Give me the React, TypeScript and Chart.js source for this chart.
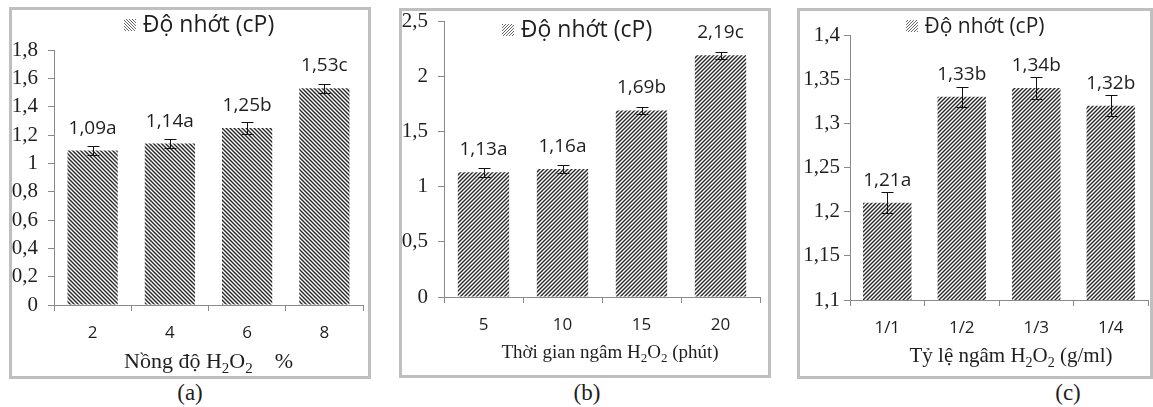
import React, { useEffect, useRef } from 'react';
import { Chart, registerables } from 'chart.js';
Chart.register(...registerables);

const LEGEND_LABEL = 'Độ nhớt (cP)';

// Panel (a)
const catsA = ['2', '4', '6', '8'];
const valsA = [1.09, 1.14, 1.25, 1.53];
const errA = [0.03, 0.03, 0.04, 0.03];
const lettersA = ['a', 'a', 'b', 'c'];
const titleA = [{ t: 'Nồng độ H' }, { t: '2', sub: true }, { t: 'O' }, { t: '2', sub: true }, { t: '    %' }];

// Panel (b)
const catsB = ['5', '10', '15', '20'];
const valsB = [1.13, 1.16, 1.69, 2.19];
const errB = [0.04, 0.035, 0.03, 0.03];
const lettersB = ['a', 'a', 'b', 'c'];
const titleB = [{ t: 'Thời gian ngâm H' }, { t: '2', sub: true }, { t: 'O' }, { t: '2', sub: true }, { t: ' (phút)' }];

// Panel (c)
const catsC = ['1/1', '1/2', '1/3', '1/4'];
const valsC = [1.21, 1.33, 1.34, 1.32];
const errC = [0.012, 0.011, 0.013, 0.012];
const lettersC = ['a', 'b', 'b', 'b'];
const titleC = [{ t: 'Tỷ lệ ngâm H' }, { t: '2', sub: true }, { t: 'O' }, { t: '2', sub: true }, { t: ' (g/ml)' }];

const SANS = '"Open Sans", "Noto Sans", sans-serif';
const SERIF = '"Liberation Serif", "DejaVu Serif", serif';
const TEXT = '#1e1e1e';
const AXIS = '#8a8a8a';

const fmt = (v: number) => String(+v.toFixed(2)).replace('.', ',');

function makeHatch(ctx: CanvasRenderingContext2D, dir: 'back' | 'fwd', period: number, lw: number, color: string) {
  const c = document.createElement('canvas');
  c.width = period;
  c.height = period;
  const x = c.getContext('2d')!;
  x.fillStyle = '#fff';
  x.fillRect(0, 0, period, period);
  x.strokeStyle = color;
  x.lineWidth = lw;
  x.beginPath();
  if (dir === 'back') {
    x.moveTo(-1, -1); x.lineTo(period + 1, period + 1);
    x.moveTo(-1, period - 1); x.lineTo(1, period + 1);
    x.moveTo(period - 1, -1); x.lineTo(period + 1, 1);
  } else {
    x.moveTo(-1, period + 1); x.lineTo(period + 1, -1);
    x.moveTo(-1, 1); x.lineTo(1, -1);
    x.moveTo(period - 1, period + 1); x.lineTo(period + 1, period - 1);
  }
  x.stroke();
  return ctx.createPattern(c, 'repeat')!;
}

const extrasPlugin = {
  id: 'extras',
  afterDatasetsDraw(chart: any, _a: any, opts: any) {
    const { ctx } = chart;
    const meta = chart.getDatasetMeta(0);
    const ys = chart.scales.y;
    ctx.save();
    meta.data.forEach((bar: any, i: number) => {
      const v = opts.vals[i];
      const e = opts.errs[i];
      const x = bar.x;
      const t = Math.round(ys.getPixelForValue(v + e)) + 0.5;
      const b = Math.round(ys.getPixelForValue(v - e)) + 0.5;
      const xc = Math.round(x) + 0.5;
      ctx.strokeStyle = '#111';
      ctx.lineWidth = 1;
      ctx.beginPath();
      ctx.moveTo(xc, t); ctx.lineTo(xc, b);
      ctx.moveTo(xc - 6, t); ctx.lineTo(xc + 6, t);
      ctx.moveTo(xc - 6, b); ctx.lineTo(xc + 6, b);
      ctx.stroke();
      ctx.fillStyle = TEXT;
      ctx.font = `${opts.labelSize}px ${SANS}`;
      ctx.textAlign = 'center';
      ctx.textBaseline = 'alphabetic';
      ctx.fillText(fmt(v) + opts.letters[i], x, bar.y - opts.labelGap);
    });
    ctx.restore();
  },
};

const legendPlugin = {
  id: 'hlegend',
  afterDraw(chart: any, _a: any, opts: any) {
    const { ctx } = chart;
    ctx.save();
    ctx.font = `${opts.size}px ${SANS}`;
    const tw = ctx.measureText(opts.text).width;
    const sw = 12;
    const gap = 7;
    const x0 = opts.cx - (sw + gap + tw) / 2;
    ctx.fillStyle = opts.pattern;
    ctx.fillRect(Math.round(x0), opts.baseline - 13, sw, sw);
    ctx.fillStyle = TEXT;
    ctx.textAlign = 'left';
    ctx.textBaseline = 'alphabetic';
    ctx.fillText(opts.text, x0 + sw + gap, opts.baseline);
    ctx.restore();
  },
};

const xTitlePlugin = {
  id: 'xtitle',
  afterDraw(chart: any, _a: any, opts: any) {
    const { ctx } = chart;
    ctx.save();
    const size = opts.size;
    const subSize = Math.round(size * 0.68);
    const parts = opts.parts as { t: string; sub?: boolean }[];
    let total = 0;
    const widths = parts.map((p) => {
      ctx.font = `${p.sub ? subSize : size}px ${SERIF}`;
      const w = ctx.measureText(p.t).width;
      total += w;
      return w;
    });
    const ca = chart.chartArea;
    let x = (ca.left + ca.right) / 2 + opts.dx - total / 2;
    ctx.fillStyle = TEXT;
    ctx.textAlign = 'left';
    ctx.textBaseline = 'alphabetic';
    parts.forEach((p, i) => {
      ctx.font = `${p.sub ? subSize : size}px ${SERIF}`;
      ctx.fillText(p.t, x, opts.baseline + (p.sub ? Math.round(size * 0.22) : 0));
      x += widths[i];
    });
    ctx.restore();
  },
};

type PanelCfg = {
  cats: string[];
  vals: number[];
  errs: number[];
  letters: string[];
  title: { t: string; sub?: boolean }[];
  dir: 'back' | 'fwd';
  w: number;
  h: number;
  yWidth: number;
  xHeight: number;
  padTop: number;
  padRight: number;
  min: number;
  max: number;
  step: number;
  yPad: number;
  xPad: number;
  yFont: number;
  legendCx: number;
  legendBase: number;
  legendSize: number;
  titleBase: number;
  titleDx: number;
  titleSize: number;
};

function Panel({ cfg }: { cfg: PanelCfg }) {
  const ref = useRef<HTMLCanvasElement | null>(null);
  useEffect(() => {
    const canvas = ref.current!;
    const ctx = canvas.getContext('2d')!;
    const pattern = makeHatch(ctx, cfg.dir, 4, 1.4, '#262626');
    const legendPattern = makeHatch(ctx, cfg.dir, 3, 0.9, '#555');
    const chart = new Chart(canvas, {
      type: 'bar',
      data: {
        labels: cfg.cats,
        datasets: [
          {
            label: LEGEND_LABEL,
            data: cfg.vals,
            backgroundColor: pattern,
            borderWidth: 0,
            barPercentage: 0.65,
            categoryPercentage: 1,
          },
        ],
      },
      options: {
        responsive: false,
        animation: false,
        events: [],
        layout: { padding: { top: cfg.padTop, right: cfg.padRight, left: 0, bottom: 0 } },
        plugins: {
          legend: { display: false },
          tooltip: { enabled: false },
          extras: { vals: cfg.vals, errs: cfg.errs, letters: cfg.letters, labelSize: 19, labelGap: 17 },
          hlegend: { text: LEGEND_LABEL, cx: cfg.legendCx, baseline: cfg.legendBase, size: cfg.legendSize, pattern: legendPattern },
          xtitle: { parts: cfg.title, baseline: cfg.titleBase, dx: cfg.titleDx, size: cfg.titleSize },
        } as any,
        scales: {
          x: {
            offset: true,
            grid: { display: true, drawOnChartArea: false, drawTicks: true, tickLength: 6, color: AXIS, offset: true },
            border: { display: true, color: AXIS, width: 1 },
            ticks: { font: { family: SANS, size: 17 }, color: TEXT, padding: cfg.xPad },
            afterFit: (s: any) => {
              s.height = cfg.xHeight;
              s.paddingLeft = 0;
              s.paddingRight = 0;
            },
          },
          y: {
            min: cfg.min,
            max: cfg.max,
            grid: { display: true, drawOnChartArea: false, drawTicks: true, tickLength: 6, color: AXIS },
            border: { display: true, color: AXIS, width: 1 },
            ticks: {
              stepSize: cfg.step,
              font: { family: SERIF, size: cfg.yFont },
              color: TEXT,
              padding: cfg.yPad,
              callback: (v: any) => fmt(Number(v)),
            },
            afterFit: (s: any) => {
              s.width = cfg.yWidth;
              s.paddingTop = 0;
              s.paddingBottom = 0;
            },
          },
        },
      },
      plugins: [extrasPlugin, legendPlugin, xTitlePlugin],
    });
    return () => chart.destroy();
  }, [cfg]);
  return <canvas ref={ref} width={cfg.w} height={cfg.h} style={{ display: 'block' }} />;
}

const cfgA: PanelCfg = {
  cats: catsA, vals: valsA, errs: errA, letters: lettersA, title: titleA, dir: 'back',
  w: 356, h: 366, yWidth: 42, xHeight: 71, padTop: 40, padRight: 5,
  min: 0, max: 1.8, step: 0.2, yPad: 10, xPad: 12, yFont: 21,
  legendCx: 187, legendBase: 22, legendSize: 23, titleBase: 358, titleDx: 0, titleSize: 22,
};
const cfgB: PanelCfg = {
  cats: catsB, vals: valsB, errs: errB, letters: lettersB, title: titleB, dir: 'fwd',
  w: 366, h: 364, yWidth: 42, xHeight: 78, padTop: 10, padRight: 8,
  min: 0, max: 2.5, step: 0.5, yPad: 10, xPad: 12, yFont: 21,
  legendCx: 175, legendBase: 26, legendSize: 23, titleBase: 347, titleDx: 8, titleSize: 19,
};
const cfgC: PanelCfg = {
  cats: catsC, vals: valsC, errs: errC, letters: lettersC, title: titleC, dir: 'fwd',
  w: 350, h: 365, yWidth: 50, xHeight: 76, padTop: 24, padRight: 2,
  min: 1.1, max: 1.4, step: 0.05, yPad: 4, xPad: 12, yFont: 21,
  legendCx: 175, legendBase: 22, legendSize: 21, titleBase: 351, titleDx: 12, titleSize: 21,
};

const panels = [
  { cfg: cfgA, left: 9, top: 7, width: 362, height: 372, caption: '(a)', capX: 190 },
  { cfg: cfgB, left: 399, top: 8, width: 372, height: 370, caption: '(b)', capX: 587 },
  { cfg: cfgC, left: 797, top: 8, width: 356, height: 371, caption: '(c)', capX: 1068 },
];

export default function App() {
  return (
    <div style={{ position: 'absolute', left: 0, top: 0, width: 1153, height: 407, background: '#fff', overflow: 'hidden' }}>
      {panels.map((p) => (
        <React.Fragment key={p.caption}>
          <div
            style={{
              position: 'absolute',
              left: p.left,
              top: p.top,
              width: p.width,
              height: p.height,
              boxSizing: 'border-box',
              border: '3px solid #bfbfbf',
              background: '#fff',
            }}
          >
            <Panel cfg={p.cfg} />
          </div>
          <div
            style={{
              position: 'absolute',
              left: p.capX - 40,
              width: 80,
              top: 380,
              height: 26,
              lineHeight: '26px',
              textAlign: 'center',
              fontFamily: SERIF,
              fontSize: 23,
              color: TEXT,
            }}
          >
            {p.caption}
          </div>
        </React.Fragment>
      ))}
    </div>
  );
}
